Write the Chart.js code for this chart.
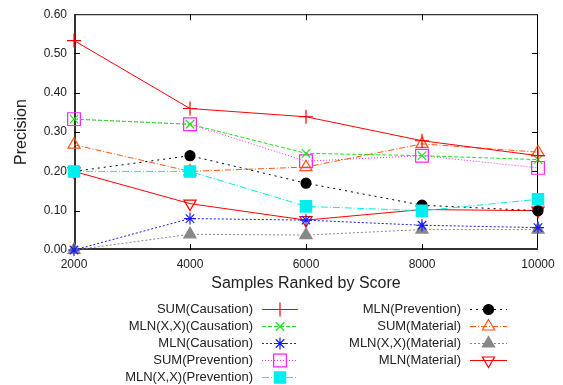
<!DOCTYPE html>
<html lang="en">
<head>
<meta charset="UTF-8">
<title>Precision</title>
<style>
  html, body { margin: 0; padding: 0; background: #fff; }
  #box { width: 563px; height: 385px; }
</style>
</head>
<body>
<div id="box"><canvas id="precisionChart" width="563" height="385"></canvas></div>
<script src="https://cdn.jsdelivr.net/npm/chart.js"></script>
<script>
// values
const samples = [2000, 4000, 6000, 8000, 10000];
const xTicks = [2000, 4000, 6000, 8000, 10000];
const yTicks = [0, 0.1, 0.2, 0.3, 0.4, 0.5, 0.6];

const sumCausation = [0.533, 0.360, 0.339, 0.278, 0.240];
const mlnXXCausation = [0.333, 0.320, 0.246, 0.240, 0.230];
const mlnCausation = [0.000, 0.080, 0.076, 0.063, 0.057];
const sumPrevention = [0.333, 0.320, 0.226, 0.240, 0.209];
const mlnXXPrevention = [0.200, 0.200, 0.111, 0.100, 0.129];
const mlnPrevention = [0.200, 0.240, 0.170, 0.114, 0.100];
const sumMaterial = [0.268, 0.200, 0.211, 0.270, 0.249];
const mlnXXMaterial = [0.000, 0.040, 0.038, 0.052, 0.052];
const mlnMaterial = [0.200, 0.118, 0.076, 0.103, 0.100];

const FONT = "'Liberation Sans', Arial, Helvetica, sans-serif";

function series(label, values, color, dash, style, radius, filled, rotation) {
    return {
        label: label,
        data: values.map((v, i) => ({ x: samples[i], y: v })),
        borderColor: color,
        backgroundColor: filled ? color : 'rgba(0,0,0,0)',
        borderWidth: 1,
        borderDash: dash,
        pointStyle: style,
        pointRadius: radius,
        pointHoverRadius: radius,
        pointBorderColor: color,
        pointBackgroundColor: filled ? color : 'rgba(0,0,0,0)',
        pointBorderWidth: 1.2,
        pointRotation: rotation || 0,
        tension: 0,
        fill: false,
        clip: false
    };
}

const datasets = [
    series('SUM(Causation)', sumCausation, '#ff0000', [], 'cross', 7, false),
    series('MLN(X,X)(Causation)', mlnXXCausation, '#22dd22', [4, 2], 'crossRot', 6, false),
    series('MLN(Causation)', mlnCausation, '#1a1aff', [2, 2], 'star', 6, false),
    series('SUM(Prevention)', sumPrevention, '#ff22ff', [1, 2], 'rect', 9, false),
    series('MLN(X,X)(Prevention)', mlnXXPrevention, '#00eeee', [7, 2, 1, 2], 'rect', 8, true),
    series('MLN(Prevention)', mlnPrevention, '#000000', [2, 4], 'circle', 5, true),
    series('SUM(Material)', sumMaterial, '#ff5511', [6, 2, 1, 2], 'triangle', 7, false),
    series('MLN(X,X)(Material)', mlnXXMaterial, '#888888', [2, 2], 'triangle', 7, true),
    series('MLN(Material)', mlnMaterial, '#ff0000', [], 'triangle', 7, false, 180)
];

// frame with inward ticks, gnuplot style
const framePlugin = {
    id: 'frame',
    beforeDatasetsDraw(chart) {
        const { ctx, chartArea: a, scales } = chart;
        ctx.save();
        ctx.strokeStyle = '#000';
        ctx.lineWidth = 1;
        ctx.strokeRect(a.left + 0.5, a.top + 0.5, a.right - a.left - 1, a.bottom - a.top - 1);
        ctx.strokeStyle = '#333';
        ctx.lineWidth = 2;
        ctx.beginPath();
        ctx.moveTo(a.left + 1, a.top);
        ctx.lineTo(a.left + 1, a.bottom - 1);
        ctx.lineTo(a.right, a.bottom - 1);
        ctx.stroke();
        ctx.strokeStyle = '#000';
        ctx.lineWidth = 1;
        ctx.beginPath();
        xTicks.slice(1, -1).forEach(v => {
            const x = Math.round(scales.x.getPixelForValue(v)) + 0.5;
            ctx.moveTo(x, a.bottom); ctx.lineTo(x, a.bottom - 6);
            ctx.moveTo(x, a.top); ctx.lineTo(x, a.top + 6);
        });
        yTicks.slice(1, -1).forEach(v => {
            const y = Math.round(scales.y.getPixelForValue(v)) + 0.5;
            ctx.moveTo(a.left, y); ctx.lineTo(a.left + 6, y);
            ctx.moveTo(a.right, y); ctx.lineTo(a.right - 6, y);
        });
        ctx.stroke();
        ctx.restore();
    }
};

// two column legend: text right aligned, sample line on the right
const legendPlugin = {
    id: 'sideLegend',
    afterDraw(chart) {
        const { ctx } = chart;
        const cols = [
            { textRight: 253, x0: 262, x1: 298, items: [0, 1, 2, 3, 4] },
            { textRight: 461, x0: 470, x1: 507, items: [5, 6, 7, 8] }
        ];
        ctx.save();
        ctx.font = '13px ' + FONT;
        ctx.textAlign = 'right';
        ctx.textBaseline = 'middle';
        cols.forEach(col => {
            col.items.forEach((idx, row) => {
                const ds = chart.data.datasets[idx];
                const y = 309 + row * 17.1;
                ctx.fillStyle = '#222';
                ctx.fillText(ds.label, col.textRight, y);
                ctx.strokeStyle = ds.borderColor;
                ctx.lineWidth = 1;
                ctx.setLineDash(ds.borderDash);
                ctx.beginPath();
                ctx.moveTo(col.x0, Math.round(y) + 0.5);
                ctx.lineTo(col.x1, Math.round(y) + 0.5);
                ctx.stroke();
                ctx.setLineDash([]);
                ctx.fillStyle = ds.pointBackgroundColor;
                ctx.strokeStyle = ds.pointBorderColor;
                ctx.lineWidth = ds.pointBorderWidth;
                Chart.helpers.drawPoint(ctx, {
                    pointStyle: ds.pointStyle,
                    radius: ds.pointRadius,
                    rotation: ds.pointRotation,
                    borderWidth: ds.pointBorderWidth
                }, (col.x0 + col.x1) / 2, Math.round(y) + 0.5);
            });
        });
        ctx.restore();
    }
};

const ctx = document.getElementById('precisionChart').getContext('2d');
const precisionChart = new Chart(ctx, {
    type: 'line',
    data: { datasets: datasets },
    options: {
        responsive: false,
        animation: false,
        events: [],
        layout: { padding: { left: 0, top: 13, right: 25, bottom: 92 } },
        plugins: {
            legend: { display: false },
            tooltip: { enabled: false }
        },
        scales: {
            x: {
                type: 'linear',
                min: 2000,
                max: 10000,
                afterFit(scale) { scale.height = 43; },
                afterBuildTicks(scale) { scale.ticks = xTicks.map(v => ({ value: v })); },
                grid: { display: false, drawTicks: false },
                border: { display: false },
                ticks: {
                    color: '#222',
                    padding: 7,
                    font: { family: FONT, size: 12 },
                    maxRotation: 0,
                    callback: v => String(v)
                },
                title: {
                    display: true,
                    text: 'Samples Ranked by Score',
                    color: '#222',
                    font: { family: FONT, size: 16 },
                    padding: { top: 0, bottom: 0 }
                }
            },
            y: {
                min: 0,
                max: 0.6,
                afterFit(scale) { scale.width = 74; },
                afterBuildTicks(scale) { scale.ticks = yTicks.map(v => ({ value: v })); },
                grid: { display: false, drawTicks: false },
                border: { display: false },
                ticks: {
                    color: '#222',
                    padding: 7,
                    font: { family: FONT, size: 12 },
                    callback: v => v.toFixed(2)
                },
                title: {
                    display: true,
                    text: 'Precision',
                    color: '#222',
                    font: { family: FONT, size: 16 },
                    padding: { top: 12, bottom: 0 }
                }
            }
        }
    },
    plugins: [framePlugin, legendPlugin]
});
</script>
</body>
</html>
